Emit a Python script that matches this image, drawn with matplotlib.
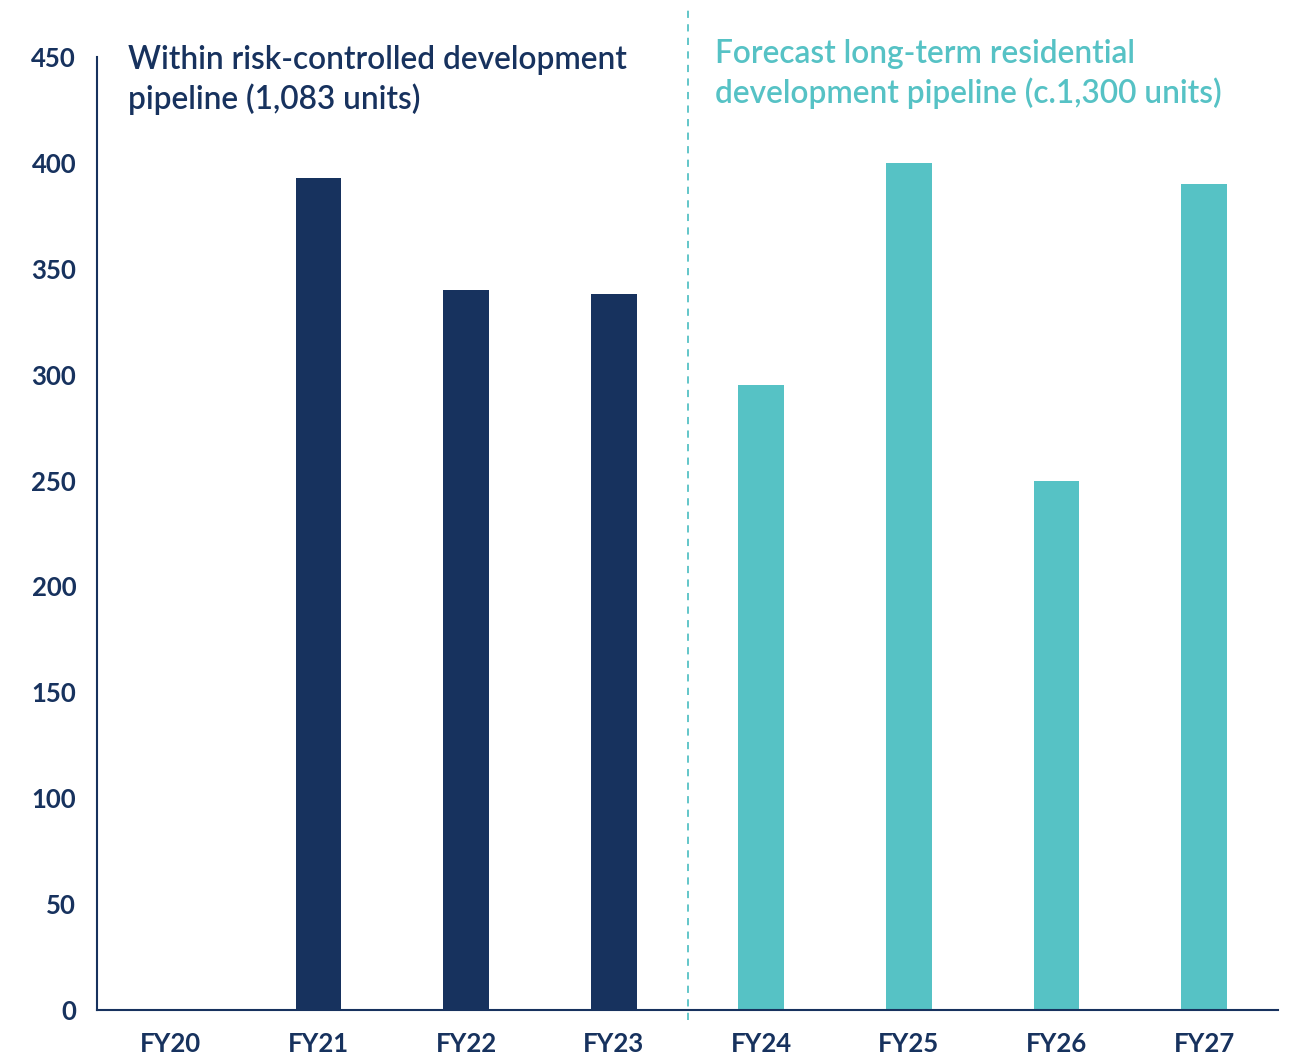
import matplotlib
matplotlib.use('Agg')
import matplotlib.pyplot as plt
import numpy as np

# data
years = ['FY20', 'FY21', 'FY22', 'FY23', 'FY24', 'FY25', 'FY26', 'FY27']
units = [0, 393, 340, 338, 295, 400, 250, 390]
forecast = [False, False, False, False, True, True, True, True]
y_ticks = [0, 50, 100, 150, 200, 250, 300, 350, 400, 450]

NAVY = '#17325E'
TEAL = '#56C2C5'

plt.rcParams['font.family'] = ['Lato', 'DejaVu Sans']

fig = plt.figure(figsize=(12.96, 10.55), dpi=100)
ax = fig.add_axes([97 / 1296, 45 / 1055, (1278 - 97) / 1296, (1010 - 57) / 1055])

x = np.arange(len(years))
colors = [TEAL if f else NAVY for f in forecast]
ax.bar(x, units, width=0.31, color=colors, zorder=2)

ax.set_xlim(-0.5, len(years) - 0.5)
ax.set_ylim(0, 450)
ax.set_yticks(y_ticks)
ax.set_xticks(x)
ax.set_xticklabels(years)
ax.tick_params(axis='both', length=0, labelsize=18.5, labelcolor=NAVY)
ax.tick_params(axis='y', pad=15)
ax.tick_params(axis='x', pad=16)
for lab in ax.get_xticklabels() + ax.get_yticklabels():
    lab.set_fontweight('bold')

for side in ['top', 'right']:
    ax.spines[side].set_visible(False)
for side in ['left', 'bottom']:
    ax.spines[side].set_color(NAVY)
    ax.spines[side].set_linewidth(1.5)

# divider between actual and forecast
ax.axvline(3.5, ymin=-0.011, ymax=1.052, color=TEAL, lw=1.3,
           ls=(0, (4, 3.5)), clip_on=False, zorder=1)

fig.text(128 / 1296, 1 - 45 / 1055,
         'Within risk-controlled development\npipeline (1,083 units)',
         color=NAVY, fontsize=22.8, fontweight='semibold', va='top', ha='left',
         linespacing=1.32)
fig.text(715 / 1296, 1 - 39 / 1055,
         'Forecast long-term residential\ndevelopment pipeline (c.1,300 units)',
         color=TEAL, fontsize=22.8, fontweight='semibold', va='top', ha='left',
         linespacing=1.32)

fig.savefig('out.png', dpi=100)
